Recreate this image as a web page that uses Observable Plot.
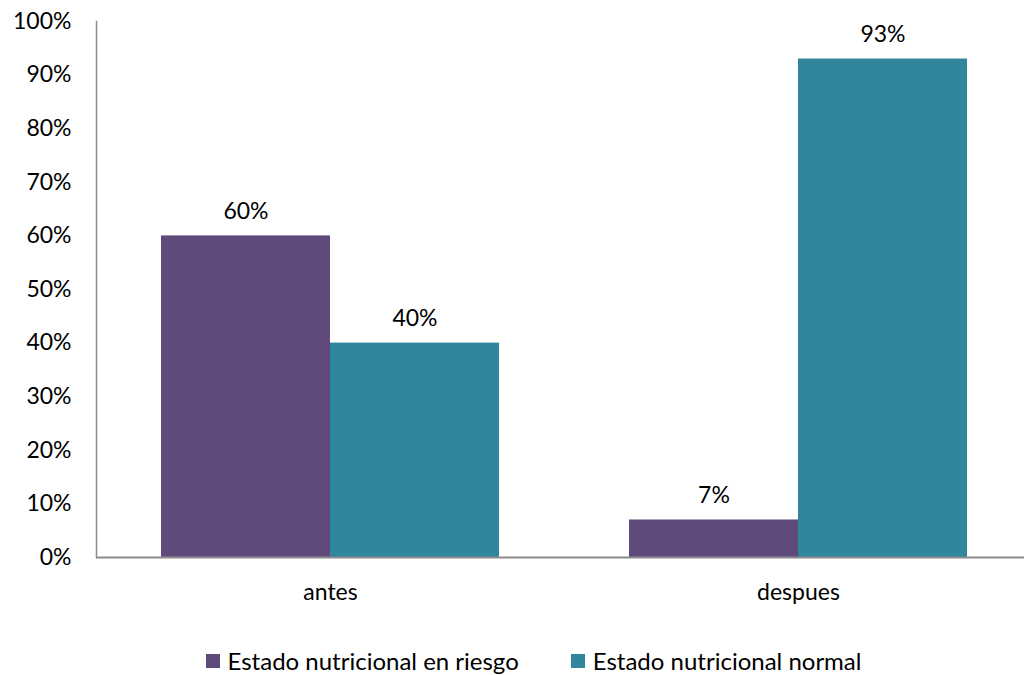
<!DOCTYPE html>
<html>
<head>
<meta charset="utf-8">
<script src="https://cdn.jsdelivr.net/npm/d3@7"></script>
<script src="https://cdn.jsdelivr.net/npm/@observablehq/plot@0.6"></script>
<style>
  body { margin: 0; background: #fff; font-family: Lato, "Open Sans", sans-serif; }
  #chart svg { display: block; overflow: visible; }
  .legend { display: flex; justify-content: center; align-items: center; padding-left: 43px; margin-top: 27px; font-size: 24px; line-height: 28px; color: #000; }
  .legend .item { display: flex; align-items: center; margin: 0 26px; }
  .legend .sw { width: 14px; height: 14px; margin-right: 8px; }
</style>
</head>
<body>
<div id="chart"></div>
<script>
const groups = ["antes", "despues"];
const series = ["Estado nutricional en riesgo", "Estado nutricional normal"];
const colors = ["#604a7b", "#31859c"];
const riesgo = [0.60, 0.07];
const normal = [0.40, 0.93];
const yTicks = [0, 0.1, 0.2, 0.3, 0.4, 0.5, 0.6, 0.7, 0.8, 0.9, 1.0];

const data = [];
groups.forEach((g, i) => {
  data.push({group: g, series: series[0], value: riesgo[i]});
  data.push({group: g, series: series[1], value: normal[i]});
});

const pct = d => Math.round(d * 100) + "%";

const chart = Plot.plot({
  width: 1024,
  height: 620,
  marginLeft: 95,
  marginRight: -8,
  marginTop: 21,
  marginBottom: 63,
  style: {fontFamily: "Lato, 'Open Sans', sans-serif", fontSize: "23px", color: "#000", background: "#fff"},
  fx: {domain: groups, padding: 0, label: null},
  x: {domain: series, paddingInner: 0, paddingOuter: 0.378, axis: null},
  y: {domain: [0, 1], label: null},
  color: {domain: series, range: colors},
  marks: [
    Plot.barY(data, {fx: "group", x: "series", y: "value", fill: "series"}),
    Plot.text(data, {fx: "group", x: "series", y: "value", text: d => pct(d.value), dy: -24, fill: "#000", fontSize: 23}),
    Plot.ruleY([0], {stroke: "#8c8c8c", strokeWidth: 2}),
    Plot.axisY({ticks: yTicks, tickFormat: pct, tickSize: 0, tickPadding: 25, fontSize: 23, label: null}),
    Plot.frame({anchor: "left", facetAnchor: "left", stroke: "#8c8c8c", strokeWidth: 1.5}),
    Plot.axisFx({anchor: "bottom", tickSize: 0, tickPadding: 26, fontSize: 23, label: null})
  ]
});
document.getElementById("chart").appendChild(chart);

const legend = document.createElement("div");
legend.className = "legend";
series.forEach((s, i) => {
  const item = document.createElement("div");
  item.className = "item";
  const sw = document.createElement("span");
  sw.className = "sw";
  sw.style.background = colors[i];
  const t = document.createElement("span");
  t.textContent = s;
  item.appendChild(sw);
  item.appendChild(t);
  legend.appendChild(item);
});
document.body.appendChild(legend);
</script>
</body>
</html>
